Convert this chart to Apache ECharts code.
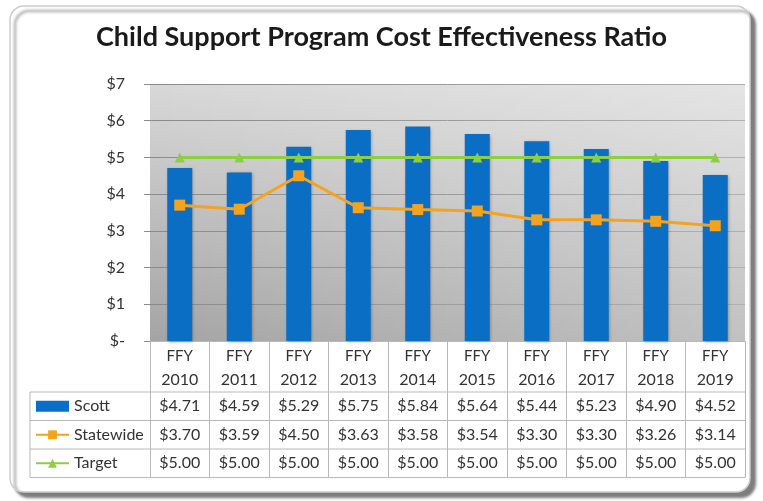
<!DOCTYPE html>
<html>
<head>
<meta charset="utf-8">
<style>
  html, body { margin: 0; padding: 0; background: #ffffff; }
  #chart { width: 763px; height: 501px; }
</style>
<script src="https://cdn.jsdelivr.net/npm/echarts@6/dist/echarts.min.js"></script>
</head>
<body>
<div id="chart"></div>
<script>
// Fiscal years and per-dollar cost effectiveness ratios
const years = ['2010', '2011', '2012', '2013', '2014', '2015', '2016', '2017', '2018', '2019'];
const scott = [4.71, 4.59, 5.29, 5.75, 5.84, 5.64, 5.44, 5.23, 4.90, 4.52];
const statewide = [3.70, 3.59, 4.50, 3.63, 3.58, 3.54, 3.30, 3.30, 3.26, 3.14];
const target = [5.00, 5.00, 5.00, 5.00, 5.00, 5.00, 5.00, 5.00, 5.00, 5.00];
const yTicks = [0, 1, 2, 3, 4, 5, 6, 7];

const FONT = 'Lato, "Open Sans", sans-serif';
const TEXT = '#333333';
const LINE = '#b8b8b8';

// plot area and data-table geometry
const plot = { left: 150, right: 745, top: 84, bottom: 341 };
const headerH = 51, rowH = 28.5, legendLeft = 30;
const rowTops = [plot.bottom + headerH, plot.bottom + headerH + rowH,
                 plot.bottom + headerH + 2 * rowH, plot.bottom + headerH + 3 * rowH];
const tableBottom = rowTops[3];
const legendLineH = 18;

const money = v => '$' + v.toFixed(2);
const categories = years.map(y => 'FFY ' + y);

const chart = echarts.init(document.getElementById('chart'), null, { renderer: 'canvas' });

const tableLines = [];
rowTops.forEach(y => {
  tableLines.push({
    type: 'line', z: 5,
    shape: { x1: legendLeft, y1: y, x2: plot.right, y2: y },
    style: { stroke: LINE, lineWidth: 1 }
  });
});
tableLines.push({
  type: 'line', z: 5,
  shape: { x1: legendLeft, y1: rowTops[0], x2: legendLeft, y2: tableBottom },
  style: { stroke: LINE, lineWidth: 1 }
});

// sheen that brightens the plot background towards the right
const sheen = {
  type: 'rect', z: 1, silent: true,
  shape: { x: plot.left, y: plot.top, width: plot.right - plot.left, height: plot.bottom - plot.top },
  style: {
    fill: new echarts.graphic.LinearGradient(0, 0, 1, 0, [
      { offset: 0, color: 'rgba(255,255,255,0)' },
      { offset: 1, color: 'rgba(255,255,255,0.32)' }
    ])
  }
};

chart.setOption({
  animation: false,
  backgroundColor: 'transparent',
  title: {
    text: 'Child Support Program Cost Effectiveness Ratio',
    left: 'center',
    top: 24,
    padding: 0,
    textStyle: { fontFamily: FONT, fontSize: 27, fontWeight: 'bold', color: '#1a1a1a' }
  },
  graphic: [
    {
      type: 'rect', z: -10, silent: true,
      shape: { x: 10, y: 6, width: 740, height: 486, r: 14 },
      style: {
        fill: '#ffffff', stroke: '#cdcdcd', lineWidth: 1.5,
        shadowColor: 'rgba(0,0,0,0.5)', shadowBlur: 3, shadowOffsetX: 5, shadowOffsetY: 5
      }
    },
    sheen
  ].concat(tableLines),
  legend: {
    orient: 'vertical',
    left: legendLeft + 5,
    top: rowTops[0] + rowH / 2 - legendLineH / 2,
    padding: 0,
    itemWidth: 33,
    itemHeight: 11,
    itemGap: rowH - legendLineH,
    textStyle: { fontFamily: FONT, fontSize: 16, color: TEXT, lineHeight: legendLineH },
    data: [{ name: 'Scott', icon: 'rect' }, 'Statewide', 'Target']
  },
  grid: {
    left: plot.left, right: 763 - plot.right, top: plot.top, bottom: 501 - plot.bottom,
    show: true, borderWidth: 0,
    backgroundColor: new echarts.graphic.LinearGradient(0, 0, 0, 1, [
      { offset: 0, color: '#d8d8d8' },
      { offset: 1, color: '#a4a4a4' }
    ])
  },
  xAxis: {
    type: 'category',
    data: categories,
    boundaryGap: true,
    axisLine: { show: true, lineStyle: { color: LINE, width: 1 } },
    axisTick: { show: true, length: tableBottom - plot.bottom, lineStyle: { color: LINE, width: 1 } },
    axisLabel: {
      interval: 0,
      margin: 4,
      formatter: (val, idx) => {
        const parts = val.split(' ');
        return '{h1|' + parts[0] + '}\n{h2|' + parts[1] + '}\n' +
          '{v|' + money(scott[idx]) + '}\n{v|' + money(statewide[idx]) + '}\n{v|' + money(target[idx]) + '}';
      },
      rich: {
        h1: { fontFamily: FONT, fontSize: 15, color: TEXT, lineHeight: 22, align: 'center' },
        h2: { fontFamily: FONT, fontSize: 16, color: TEXT, lineHeight: 25, align: 'center' },
        v: { fontFamily: FONT, fontSize: 16, color: TEXT, lineHeight: rowH, align: 'center' }
      }
    }
  },
  yAxis: {
    type: 'value',
    min: yTicks[0], max: yTicks[yTicks.length - 1], interval: 1,
    axisLine: { show: false },
    axisTick: { show: true, length: 6, lineStyle: { color: '#8c8c8c' } },
    axisLabel: {
      margin: 25,
      fontFamily: FONT, fontSize: 16, color: TEXT,
      formatter: v => (v === 0 ? '$-' : '$' + v)
    },
    splitLine: { show: true, lineStyle: { color: '#8a8a8a', width: 1 } }
  },
  series: [
    {
      name: 'Scott', type: 'bar', data: scott,
      barWidth: 25, z: 3,
      itemStyle: { color: '#0a6fc4', shadowColor: 'rgba(0,0,0,0.3)', shadowBlur: 3, shadowOffsetX: 1, shadowOffsetY: 1 }
    },
    {
      name: 'Statewide', type: 'line', data: statewide, z: 4,
      symbol: 'rect', symbolSize: 11,
      lineStyle: { color: '#f5a21f', width: 3 },
      itemStyle: { color: '#f5a21f' }
    },
    {
      name: 'Target', type: 'line', data: target, z: 4,
      symbol: 'triangle', symbolSize: 10,
      lineStyle: { color: '#8ccf45', width: 3 },
      itemStyle: { color: '#8ccf45' }
    }
  ]
});
</script>
</body>
</html>
